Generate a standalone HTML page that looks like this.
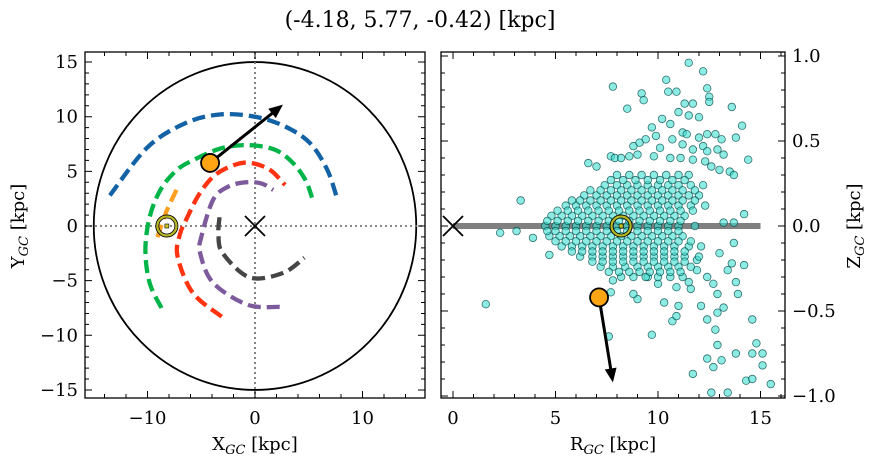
<!DOCTYPE html>
<html><head><meta charset="utf-8"><style>
html,body{margin:0;padding:0;background:#fff;}
svg{display:block;font-family:"DejaVu Serif","Liberation Serif",serif;}
</style></head><body>
<svg id="chart" width="874" height="464" viewBox="0 0 874 464">
<text x="420" y="27" text-anchor="middle" font-size="22">(-4.18, 5.77, -0.42) [kpc]</text>
<g id="left"></g>
<g id="right"></g>
</svg>
<script>
// ---- data ----
const targetXYZ = [-4.18, 5.77, -0.42];
const targetVelXY = [2.6, 11.1];
const targetVelRZ = [7.8, -0.92];
const sunX = -8.2;
const leftXTicks = [-10, 0, 10];
const leftYTicks = [-15, -10, -5, 0, 5, 10, 15];
const rightXTicks = [0, 5, 10, 15];
const rightYTicks = [-1.0, -0.5, 0.0, 0.5, 1.0];
const orbitBlueX = [-13.5, -10, -6.5, -3.3, 0, 2.8, 5.1, 6.7, 7.6];
const orbitBlueY = [2.8, 7.2, 9.4, 10.2, 10.0, 9.1, 7.6, 5.2, 2.65];
const orbitGreenX = [-8.7, -9.8, -10.2, -9.8, -8.8, -7.3, -5.8, -3.2, -0.7, 1.8, 3.5, 4.7, 5.3];
const orbitGreenY = [-7.5, -5.2, -2.2, 0.8, 3.3, 5.1, 6.0, 7.1, 7.4, 7.0, 5.8, 4.2, 2.6];
const orbitRedX = [-3.1, -5.8, -7.2, -7.0, -6.3, -5.2, -3.9, -2.4, -0.7, 1.3, 2.8];
const orbitRedY = [-8.3, -6.1, -2.8, -0.8, 0.8, 2.9, 4.5, 5.4, 5.8, 5.2, 3.75];
const orbitPurpleX = [2.3, -0.7, -3.9, -5.1, -5.0, -3.9, -2.5, -0.9, 0.6, 1.7];
const orbitPurpleY = [-7.4, -7.2, -5.2, -2.5, -1.0, 2.4, 3.6, 4.0, 3.9, 3.3];
const orbitGrayX = [-3.3, -3.4, -3.0, -0.5, 2.6, 4.6];
const orbitGrayY = [0.8, -0.8, -2.5, -4.7, -4.3, -2.9];
const orbitOrangeX = [-7.3, -8.3, -9.1];
const orbitOrangeY = [3.3, 1.2, -1.1];
const starsR = [
11.5,12.2,7.8,10.4,10.5,10.9,9.2,9.3,12.4,12.5,12.5,11.7,11.3,8.5,13.6,11.0,11.5,12.0,10.2,10.6,14.1,9.7,9.9,9.4,
11.2,11.4,12.0,12.4,12.8,13.1,13.8,8.8,9.1,10.1,10.7,11.2,11.7,12.2,12.4,12.9,13.2,14.4,7.7,7.9,8.2,8.6,6.6,7.0,
9.0,9.8,10.6,11.1,11.7,12.3,12.6,13.0,13.5,13.7,3.3,2.3,3.1,3.9,1.6,4.7,14.2,13.7,13.7,13.2,
14.6,14.8,15.1,14.6,15.1,15.5,14.3,14.6,13.8,13.1,12.7,12.4,13.4,12.6,11.7,12.9,12.8,13.2,12.9,12.4,12.1,13.9,14.2,13.8,13.6,13.4,
9.7,10.7,10.9,11.0,10.3,9.0,8.8,7.6,7.7,11.6,11.5,10.9,10.0,9.5,7.8,11.9,12.7,12.9,12.4,13.0,11.9,
8.0,8.6,9.2,9.8,10.4,11.0,11.5,
7.4,8.0,8.5,9.0,9.5,10.0,10.5,11.0,11.6,12.2,
6.4,7.0,7.5,8.0,8.5,9.0,9.5,10.0,10.5,11.0,11.5,12.0,
5.5,6.0,6.5,7.0,7.5,8.0,8.5,9.0,9.5,10.0,10.5,11.0,11.6,12.3,
4.8,5.3,5.8,6.3,6.8,7.3,7.8,8.3,8.8,9.3,9.8,10.3,10.8,11.3,
4.5,5.0,5.5,6.0,6.5,7.0,7.5,8.0,8.5,9.0,9.5,10.0,10.5,11.0,11.8,
4.7,5.2,5.7,6.2,6.7,7.2,7.7,8.2,8.7,9.2,9.7,10.2,10.7,11.2,
5.3,5.8,6.3,6.8,7.3,7.8,8.3,8.8,9.3,9.8,10.3,10.8,11.5,12.1,
6.2,6.8,7.3,7.8,8.3,8.8,9.3,9.8,10.3,10.8,11.3,12.0,
7.2,7.8,8.4,9.0,9.5,10.0,10.5,11.0,11.6,
8.2,8.8,9.4,10.0,10.6,11.2,
7.7,8.3,8.9,9.5,10.1,10.7,11.3,
6.7,7.2,7.7,8.2,8.7,9.2,9.7,10.2,10.7,11.2,11.8,
5.8,6.2,6.7,7.2,7.7,8.2,8.7,9.2,9.7,10.2,10.7,11.2,11.8,
5.1,5.6,6.1,6.6,7.1,7.6,8.1,8.6,9.1,9.6,10.1,10.6,11.1,11.7,
4.6,5.1,5.6,6.1,6.6,7.1,7.6,8.1,8.6,9.1,9.6,10.1,10.6,11.1,
4.6,5.0,5.5,6.0,6.5,7.0,7.5,8.0,8.5,9.0,9.5,10.0,10.5,11.0,
5.0,5.5,6.0,6.5,7.0,7.5,8.0,8.5,9.0,9.5,10.0,10.5,11.0,11.6,
5.8,6.3,6.8,7.3,7.8,8.3,8.8,9.3,9.8,10.3,10.8,11.3,
6.8,7.3,7.8,8.3,8.8,9.3,9.8,10.3,10.8,11.3,
7.6,8.1,8.6,9.1,9.6,10.1,10.6,11.1
];
const starsZ = [
0.96,0.91,0.82,0.86,0.79,0.79,0.78,0.74,0.81,0.76,0.73,0.72,0.72,0.69,0.70,0.67,0.65,0.64,0.63,0.60,0.59,0.58,0.53,0.51,
0.55,0.54,0.52,0.54,0.54,0.51,0.52,0.47,0.49,0.46,0.51,0.48,0.45,0.47,0.44,0.45,0.42,0.39,0.41,0.40,0.40,0.41,0.37,0.35,
0.42,0.41,0.40,0.40,0.39,0.38,0.35,0.33,0.32,0.30,0.15,-0.04,-0.03,-0.07,-0.46,-0.17,0.07,0.02,-0.10,0.02,
-0.55,-0.69,-0.75,-0.75,-0.82,-0.93,-0.91,-0.90,-0.75,-0.79,-0.83,-0.78,-0.98,-0.98,-0.87,-0.70,-0.61,-0.48,-0.51,-0.55,-0.47,-0.40,-0.23,-0.33,-0.22,-0.26,
-0.64,-0.56,-0.53,-0.47,-0.45,-0.43,-0.40,-0.65,-0.39,-0.37,-0.33,-0.36,-0.34,-0.30,-0.32,-0.26,-0.34,-0.40,-0.30,-0.16,-0.20,
0.30,0.30,0.30,0.30,0.30,0.30,0.30,
0.24,0.24,0.24,0.24,0.24,0.24,0.24,0.24,0.24,0.24,
0.18,0.18,0.18,0.18,0.18,0.18,0.18,0.18,0.18,0.18,0.18,0.18,
0.12,0.12,0.12,0.12,0.12,0.12,0.12,0.12,0.12,0.12,0.12,0.12,0.12,0.12,
0.06,0.06,0.06,0.06,0.06,0.06,0.06,0.06,0.06,0.06,0.06,0.06,0.06,0.06,
0.00,0.00,0.00,0.00,0.00,0.00,0.00,0.00,0.00,0.00,0.00,0.00,0.00,0.00,0.00,
-0.06,-0.06,-0.06,-0.06,-0.06,-0.06,-0.06,-0.06,-0.06,-0.06,-0.06,-0.06,-0.06,-0.06,
-0.12,-0.12,-0.12,-0.12,-0.12,-0.12,-0.12,-0.12,-0.12,-0.12,-0.12,-0.12,-0.12,-0.12,
-0.18,-0.18,-0.18,-0.18,-0.18,-0.18,-0.18,-0.18,-0.18,-0.18,-0.18,-0.18,
-0.24,-0.24,-0.24,-0.24,-0.24,-0.24,-0.24,-0.24,-0.24,
-0.30,-0.30,-0.30,-0.30,-0.30,-0.30,
0.27,0.27,0.27,0.27,0.27,0.27,0.27,
0.21,0.21,0.21,0.21,0.21,0.21,0.21,0.21,0.21,0.21,0.21,
0.15,0.15,0.15,0.15,0.15,0.15,0.15,0.15,0.15,0.15,0.15,0.15,0.15,
0.09,0.09,0.09,0.09,0.09,0.09,0.09,0.09,0.09,0.09,0.09,0.09,0.09,0.09,
0.03,0.03,0.03,0.03,0.03,0.03,0.03,0.03,0.03,0.03,0.03,0.03,0.03,0.03,
-0.03,-0.03,-0.03,-0.03,-0.03,-0.03,-0.03,-0.03,-0.03,-0.03,-0.03,-0.03,-0.03,-0.03,
-0.09,-0.09,-0.09,-0.09,-0.09,-0.09,-0.09,-0.09,-0.09,-0.09,-0.09,-0.09,-0.09,-0.09,
-0.15,-0.15,-0.15,-0.15,-0.15,-0.15,-0.15,-0.15,-0.15,-0.15,-0.15,-0.15,
-0.21,-0.21,-0.21,-0.21,-0.21,-0.21,-0.21,-0.21,-0.21,-0.21,
-0.27,-0.27,-0.27,-0.27,-0.27,-0.27,-0.27,-0.27
];

// ---- helpers ----
const NS = "http://www.w3.org/2000/svg";
function el(tag, attrs, parent) {
  const e = document.createElementNS(NS, tag);
  for (const k in attrs) e.setAttribute(k, attrs[k]);
  parent.appendChild(e);
  return e;
}
function smoothPath(pts) {
  let d = "M" + pts[0][0] + "," + pts[0][1];
  for (let i = 0; i < pts.length - 1; i++) {
    const p0 = pts[i - 1] || pts[i], p1 = pts[i], p2 = pts[i + 1], p3 = pts[i + 2] || p2;
    const c1 = [p1[0] + (p2[0] - p0[0]) / 6, p1[1] + (p2[1] - p0[1]) / 6];
    const c2 = [p2[0] - (p3[0] - p1[0]) / 6, p2[1] - (p3[1] - p1[1]) / 6];
    d += "C" + c1 + " " + c2 + " " + p2;
  }
  return d;
}
function arrowHead(g, x1, y1, x2, y2) {
  const a = Math.atan2(y2 - y1, x2 - x1), L = 14, W = 6;
  const bx = x2 - L * Math.cos(a), by = y2 - L * Math.sin(a);
  const pts = [[x2, y2], [bx + W * Math.sin(a), by - W * Math.cos(a)], [bx - W * Math.sin(a), by + W * Math.cos(a)]];
  return el("polygon", { points: pts.map(p => p.join(",")).join(" "), fill: "#000" }, g);
}

// ---- left panel ----
const L = document.getElementById("left");
const lx0 = 85, lx1 = 425, ly0 = 52, ly1 = 398;
const lxs = v => 255 + v * 10.75;
const lys = v => 226 - v * 10.93;

const bigCircle = el("ellipse", { cx: lxs(0), cy: lys(0), rx: 15 * 10.75, ry: 15 * 10.93, fill: "none", stroke: "#000", "stroke-width": 1.8 }, L);


const hdot = el("line", { x1: lx0, x2: lx1, y1: lys(0), y2: lys(0), stroke: "#777", "stroke-width": 1.8, "stroke-dasharray": "2 3" }, L);


const vdot = el("line", { x1: lxs(0), x2: lxs(0), y1: ly0, y2: ly1, stroke: "#777", "stroke-width": 1.8, "stroke-dasharray": "2 3" }, L);



const orbits = [
  ["orbit-blue", orbitBlueX, orbitBlueY, "#1462a6"],
  ["orbit-green", orbitGreenX, orbitGreenY, "#00b448"],
  ["orbit-red", orbitRedX, orbitRedY, "#ff3311"],
  ["orbit-purple", orbitPurpleX, orbitPurpleY, "#7d5a9c"],
  ["orbit-gray", orbitGrayX, orbitGrayY, "#454545"],
  ["orbit-orange", orbitOrangeX, orbitOrangeY, "#ffa020"]
];
orbits.forEach(o => {
  const pts = o[1].map((x, i) => [lxs(x).toFixed(1), lys(o[2][i]).toFixed(1)].map(Number));
  const p = el("path", { d: smoothPath(pts), fill: "none", stroke: o[3], "stroke-width": 4.3, "stroke-dasharray": "13 6" }, L);
  
  
});

function xMarker(g, cx, cy, s, name) {
  const m = el("path", { d: `M${cx - s},${cy - s}L${cx + s},${cy + s}M${cx - s},${cy + s}L${cx + s},${cy - s}`, stroke: "#000", "stroke-width": 1.8 }, g);
  
  
}
xMarker(L, lxs(0), lys(0), 10, "galactic-center-marker");
function sunMarker(g, cx, cy, name) {
  const s = el("g", {}, g);
  
  
  el("circle", { cx, cy, r: 11, fill: "none", stroke: "#000", "stroke-width": 1 }, s);
  el("circle", { cx, cy, r: 9.5, fill: "none", stroke: "#b8b820", "stroke-width": 2.2 }, s);
  el("circle", { cx, cy, r: 8, fill: "none", stroke: "#000", "stroke-width": 0.8 }, s);
  el("rect", { x: cx - 2, y: cy - 2, width: 4, height: 4, fill: "#c8c820", stroke: "#000", "stroke-width": 0.6 }, s);
}
sunMarker(L, lxs(sunX), lys(0), "sun-marker-xy");
const ax1 = lxs(targetXYZ[0]), ay1 = lys(targetXYZ[1]), ax2 = lxs(targetVelXY[0]), ay2 = lys(targetVelXY[1]);
const angL = Math.atan2(ay2 - ay1, ax2 - ax1);
const arrL = el("line", { x1: ax1, y1: ay1, x2: ax2 - 10 * Math.cos(angL), y2: ay2 - 10 * Math.sin(angL), stroke: "#000", "stroke-width": 3 }, L);


const ahL = arrowHead(L, ax1, ay1, ax2, ay2);


const tgtL = el("circle", { cx: ax1, cy: ay1, r: 9, fill: "#ffa514", stroke: "#000", "stroke-width": 1.8 }, L);



function frame(g, x0, y0, x1, y1, name) {
  const f = el("rect", { x: x0, y: y0, width: x1 - x0, height: y1 - y0, fill: "none", stroke: "#000", "stroke-width": 1.3 }, g);
  
  
}
function ticks(g, x0, y0, x1, y1, xs, ys, xmaj, xmin, ymaj, ymin) {
  let d = "";
  xmaj.forEach(v => { const x = xs(v); if (x >= x0 && x <= x1) d += `M${x},${y1}v-7M${x},${y0}v7`; });
  xmin.forEach(v => { const x = xs(v); if (x >= x0 && x <= x1) d += `M${x},${y1}v-4M${x},${y0}v4`; });
  ymaj.forEach(v => { const y = ys(v); if (y >= y0 && y <= y1) d += `M${x0},${y}h7M${x1},${y}h-7`; });
  ymin.forEach(v => { const y = ys(v); if (y >= y0 && y <= y1) d += `M${x0},${y}h4M${x1},${y}h-4`; });
  const t = el("path", { d, stroke: "#000", "stroke-width": 1 }, g);
  
  
}
function range(a, b, s) { const r = []; for (let v = a; v <= b + 1e-9; v += s) r.push(+v.toFixed(3)); return r; }
function fmt(v, dec) { const s = Math.abs(v).toFixed(dec); return (v < -1e-9 ? "\u2212" : "") + s; }

frame(L, lx0, ly0, lx1, ly1, "xy-axes-frame");
ticks(L, lx0, ly0, lx1, ly1, lxs, lys, leftXTicks, range(-16, 16, 2), leftYTicks, range(-16, 16, 1));
leftXTicks.forEach(v => {
  const t = el("text", { x: lxs(v), y: 424, "text-anchor": "middle", "font-size": 18 }, L);
  t.textContent = fmt(v, 0);
  
  
});
leftYTicks.forEach(v => {
  const t = el("text", { x: 78, y: lys(v) + 6, "text-anchor": "end", "font-size": 18 }, L);
  t.textContent = fmt(v, 0);
  
  
});

// ---- right panel ----
const R = document.getElementById("right");
const rx0 = 441, rx1 = 785, ry0 = 52, ry1 = 398;
const rxs = v => 453 + v * 20.5;
const rys = v => 226 - v * 170;
const disk = el("line", { x1: rxs(0), x2: rxs(15), y1: rys(0), y2: rys(0), stroke: "#808080", "stroke-width": 6 }, R);


const starsG = el("g", {}, R);


starsR.forEach((r, i) => {
  const c = el("circle", { cx: rxs(r), cy: rys(starsZ[i]), r: 3.8, fill: "rgba(64,224,208,0.6)", stroke: "rgba(0,70,70,0.75)", "stroke-width": 0.8 }, starsG);
  
  
});
xMarker(R, rxs(0), rys(0), 10, "galactic-center-marker-rz");
sunMarker(R, rxs(-sunX), rys(0), "sun-marker-rz");
const tR = Math.hypot(targetXYZ[0], targetXYZ[1]);
const bx1 = rxs(tR), by1 = rys(targetXYZ[2]), bx2 = rxs(targetVelRZ[0]), by2 = rys(targetVelRZ[1]);
const angR = Math.atan2(by2 - by1, bx2 - bx1);
const arrR = el("line", { x1: bx1, y1: by1, x2: bx2 - 10 * Math.cos(angR), y2: by2 - 10 * Math.sin(angR), stroke: "#000", "stroke-width": 3 }, R);


const ahR = arrowHead(R, bx1, by1, bx2, by2);


const tgtR = el("circle", { cx: bx1, cy: by1, r: 9, fill: "#ffa514", stroke: "#000", "stroke-width": 1.8 }, R);



frame(R, rx0, ry0, rx1, ry1, "rz-axes-frame");
ticks(R, rx0, ry0, rx1, ry1, rxs, rys, rightXTicks, range(0, 16, 1), rightYTicks, range(-1, 1, 0.1));
rightXTicks.forEach(v => {
  const t = el("text", { x: rxs(v), y: 424, "text-anchor": "middle", "font-size": 18 }, R);
  t.textContent = fmt(v, 0);
  
  
});
rightYTicks.forEach(v => {
  const t = el("text", { x: 792, y: rys(v) + 6, "text-anchor": "start", "font-size": 18 }, R);
  t.textContent = fmt(v, 1);
  
  
});
</script>
<svg style="position:absolute;left:0;top:0" width="874" height="464">
<g font-family="DejaVu Serif, Liberation Serif, serif" font-size="18">
<text x="255" y="450" text-anchor="middle">X<tspan font-size="13" font-style="italic" dy="4">GC</tspan><tspan dy="-4"> [kpc]</tspan></text>
<text x="613" y="450" text-anchor="middle">R<tspan font-size="13" font-style="italic" dy="4">GC</tspan><tspan dy="-4"> [kpc]</tspan></text>
<text transform="translate(24,226) rotate(-90)" text-anchor="middle">Y<tspan font-size="13" font-style="italic" dy="4">GC</tspan><tspan dy="-4"> [kpc]</tspan></text>
<text transform="translate(860,226) rotate(-90)" text-anchor="middle">Z<tspan font-size="13" font-style="italic" dy="4">GC</tspan><tspan dy="-4"> [kpc]</tspan></text>
</g></svg>
</body></html>
